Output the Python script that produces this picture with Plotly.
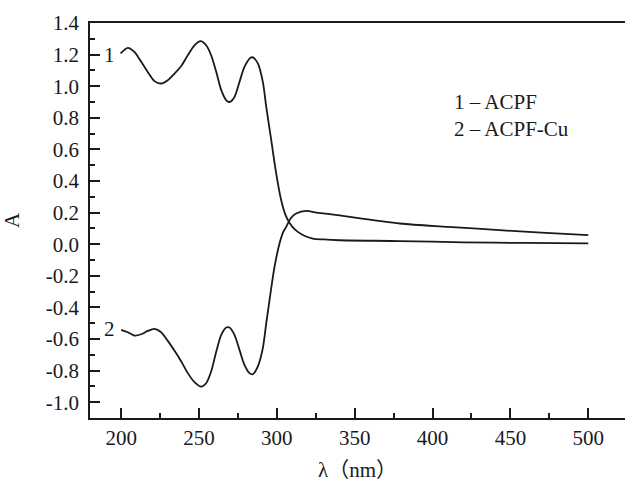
import plotly.graph_objects as go

wl1 = [199.6, 204.3, 208.5, 212.9, 217.1, 221.4, 225.7, 230, 234.3, 238.6, 242.8, 247.1, 251, 254.6, 257.8,
       261.1, 264.3, 267.5, 269.6, 272.8, 276, 279.2, 283.1, 284.6, 287.8, 291, 293.2, 296.4, 299.6, 302.8,
       305, 307.1, 310, 313.5, 318, 323.1, 330, 340.3, 379, 420, 460, 500]
acpf = [1.207, 1.243, 1.217, 1.154, 1.09, 1.032, 1.017, 1.038, 1.08, 1.128, 1.196, 1.259, 1.285, 1.259, 1.196,
        1.09, 0.975, 0.911, 0.9, 0.932, 1.027, 1.122, 1.18, 1.182, 1.144, 1.027, 0.869, 0.658, 0.447, 0.278,
        0.2, 0.152, 0.11, 0.078, 0.052, 0.036, 0.03, 0.025, 0.02, 0.012, 0.008, 0.005]

wl2 = [200, 204.3, 208.5, 212.9, 217.1, 221.4, 225.7, 230, 234.3, 238.6, 242.8, 247.1, 251.4, 254.6, 257.8,
       261.1, 264.3, 267.5, 269.6, 272.8, 276, 279.2, 282.4, 284.6, 287.8, 291, 293.2, 295.3, 298.5, 301.7,
       304, 306, 309, 312.4, 318.9, 326.4, 333.9, 340.3, 379, 410, 443, 470, 500]
acpf_cu = [-0.542, -0.557, -0.578, -0.57, -0.549, -0.536, -0.557, -0.612, -0.675, -0.742, -0.816, -0.873, -0.901, -0.88, -0.806,
           -0.679, -0.574, -0.527, -0.527, -0.574, -0.669, -0.764, -0.816, -0.823, -0.774, -0.658, -0.50, -0.354, -0.144, 0.004,
           0.075, 0.11, 0.165, 0.194, 0.211, 0.198, 0.19, 0.182, 0.131, 0.11, 0.089, 0.073, 0.057]

x_ticks = [200, 250, 300, 350, 400, 450, 500]
y_ticks = [-1.0, -0.8, -0.6, -0.4, -0.2, 0.0, 0.2, 0.4, 0.6, 0.8, 1.0, 1.2, 1.4]
y_labels = [f"{v:.1f}" for v in y_ticks]

FONT = "Liberation Serif, Times New Roman, Noto Sans CJK SC, serif"
INK = "#1a1a1a"

fig = go.Figure()
for xs, ys in ((wl1, acpf), (wl2, acpf_cu)):
    fig.add_trace(go.Scatter(x=xs, y=ys, mode="lines",
                             line=dict(color=INK, width=1.8, shape="spline", smoothing=0.8),
                             showlegend=False))

fig.update_layout(
    width=625, height=491,
    margin=dict(l=90, r=0, t=23, b=73),
    paper_bgcolor="white", plot_bgcolor="white",
    font=dict(family=FONT, size=21, color=INK),
    xaxis=dict(range=[180, 523.6], tickvals=x_ticks, ticks="inside", ticklen=10, tickwidth=1.5,
               tickcolor=INK, showline=True, linecolor=INK, linewidth=1.5, mirror=True,
               showgrid=False, zeroline=False,
               minor=dict(ticks="inside", ticklen=5, tickwidth=1.5, tickcolor=INK, dtick=25, tick0=0),
               title=dict(text="λ（nm）", standoff=13, font=dict(size=21))),
    yaxis=dict(range=[-1.1, 1.4], tickvals=y_ticks, ticktext=y_labels, ticks="inside", ticklen=10, tickwidth=1.5,
               tickcolor=INK, showline=True, linecolor=INK, linewidth=1.5, mirror=False,
               showgrid=False, zeroline=False, ticklabelstandoff=5,
               minor=dict(ticks="inside", ticklen=5, tickwidth=1.5, tickcolor=INK, dtick=0.1, tick0=0),
               title=dict(text="A", standoff=20, font=dict(size=21))),
)

fig.add_annotation(x=197.5, y=1.196, text="1", showarrow=False, xanchor="right", yanchor="middle")
fig.add_annotation(x=197.5, y=-0.538, text="2", showarrow=False, xanchor="right", yanchor="middle")
fig.add_annotation(x=0.676, y=0.816, xref="paper", yref="y", text="1 – ACPF<br>2 – ACPF-Cu", showarrow=False,
                   xanchor="left", yanchor="middle", align="left")

fig.write_html("out.html")
